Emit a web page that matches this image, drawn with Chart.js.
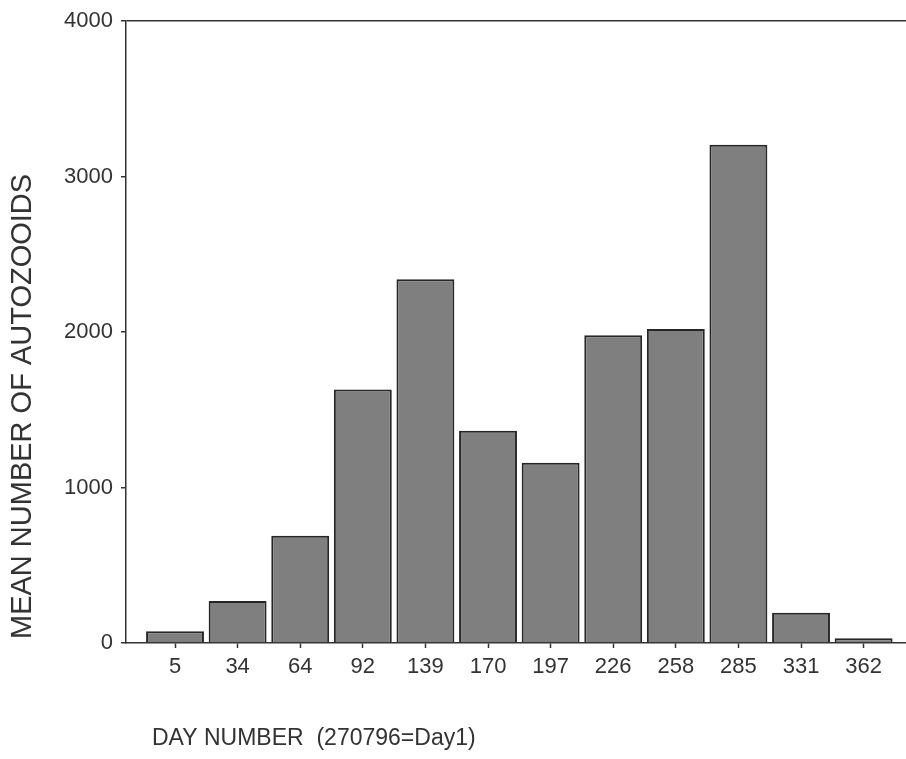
<!DOCTYPE html>
<html>
<head>
<meta charset="utf-8">
<script src="https://cdn.jsdelivr.net/npm/chart.js@4.4.1/dist/chart.umd.min.js"></script>
<style>
    html, body { margin: 0; padding: 0; background: #ffffff; }
    #wrap { width: 906px; height: 759px; }
</style>
</head>
<body>
<div id="wrap"><canvas id="myChart" width="906" height="759"></canvas></div>
<script>
// Data
const dayLabels = ['5', '34', '64', '92', '139', '170', '197', '226', '258', '285', '331', '362'];
const meanAutozooids = [75, 270, 690, 1630, 2340, 1365, 1160, 1980, 2020, 3205, 195, 30];
const yTicks = [0, 1000, 2000, 3000, 4000];

const xTitle = 'DAY NUMBER  (270796=Day1)';
const yTitle = 'MEAN NUMBER OF AUTOZOOIDS';

const textColor = '#333333';
const lineColor = '#333333';
const fontFamily = "'Liberation Sans', Arial, sans-serif";

// Axis titles drawn in place
const axisTitles = {
    id: 'axisTitles',
    afterDraw(chart) {
        const ctx = chart.ctx;
        ctx.save();
        ctx.fillStyle = textColor;
        ctx.textBaseline = 'middle';
        ctx.textAlign = 'left';
        ctx.font = '23px ' + fontFamily;
        ctx.fillText(xTitle, 152, 739);
        ctx.translate(23, 639);
        ctx.rotate(-Math.PI / 2);
        ctx.font = '29px ' + fontFamily;
        ctx.fillText(yTitle, 0, 0);
        ctx.restore();
    }
};

const points = meanAutozooids.map((v, i) => ({ x: i, y: v }));

new Chart(document.getElementById('myChart').getContext('2d'), {
    type: 'bar',
    data: {
        datasets: [{
            data: points,
            backgroundColor: '#7f7f7f',
            borderColor: '#262626',
            borderWidth: 2,
            barPercentage: 0.925,
            categoryPercentage: 1.0
        }]
    },
    options: {
        responsive: false,
        animation: false,
        layout: { padding: { top: 19, right: 0, left: 0, bottom: 0 } },
        plugins: {
            legend: { display: false },
            tooltip: { enabled: false }
        },
        scales: {
            x: {
                type: 'linear',
                offset: false,
                min: -0.783,
                max: 11.677,
                afterFit: scale => { scale.height = 116; },
                afterBuildTicks: scale => {
                    scale.ticks = dayLabels.map((_, i) => ({ value: i }));
                },
                ticks: {
                    color: textColor,
                    font: { family: fontFamily, size: 22 },
                    padding: 6,
                    maxRotation: 0,
                    autoSkip: false,
                    callback: value => dayLabels[value]
                },
                grid: {
                    offset: false,
                    drawOnChartArea: false,
                    tickColor: lineColor,
                    tickLength: 5,
                    tickWidth: 1.5
                },
                border: { color: lineColor, width: 1.5 }
            },
            y: {
                min: 0,
                max: 4000,
                afterFit: scale => { scale.width = 126; },
                afterBuildTicks: scale => {
                    scale.ticks = yTicks.map(v => ({ value: v }));
                },
                ticks: {
                    color: textColor,
                    font: { family: fontFamily, size: 22 },
                    padding: 8,
                    callback: value => String(value)
                },
                grid: {
                    color: ctx => (ctx.tick && ctx.tick.value === 4000) ? lineColor : 'rgba(0,0,0,0)',
                    lineWidth: 1.5,
                    tickColor: lineColor,
                    tickLength: 5,
                    tickWidth: 1.5
                },
                border: { color: lineColor, width: 1.5 }
            }
        }
    },
    plugins: [axisTitles]
});
</script>
</body>
</html>
